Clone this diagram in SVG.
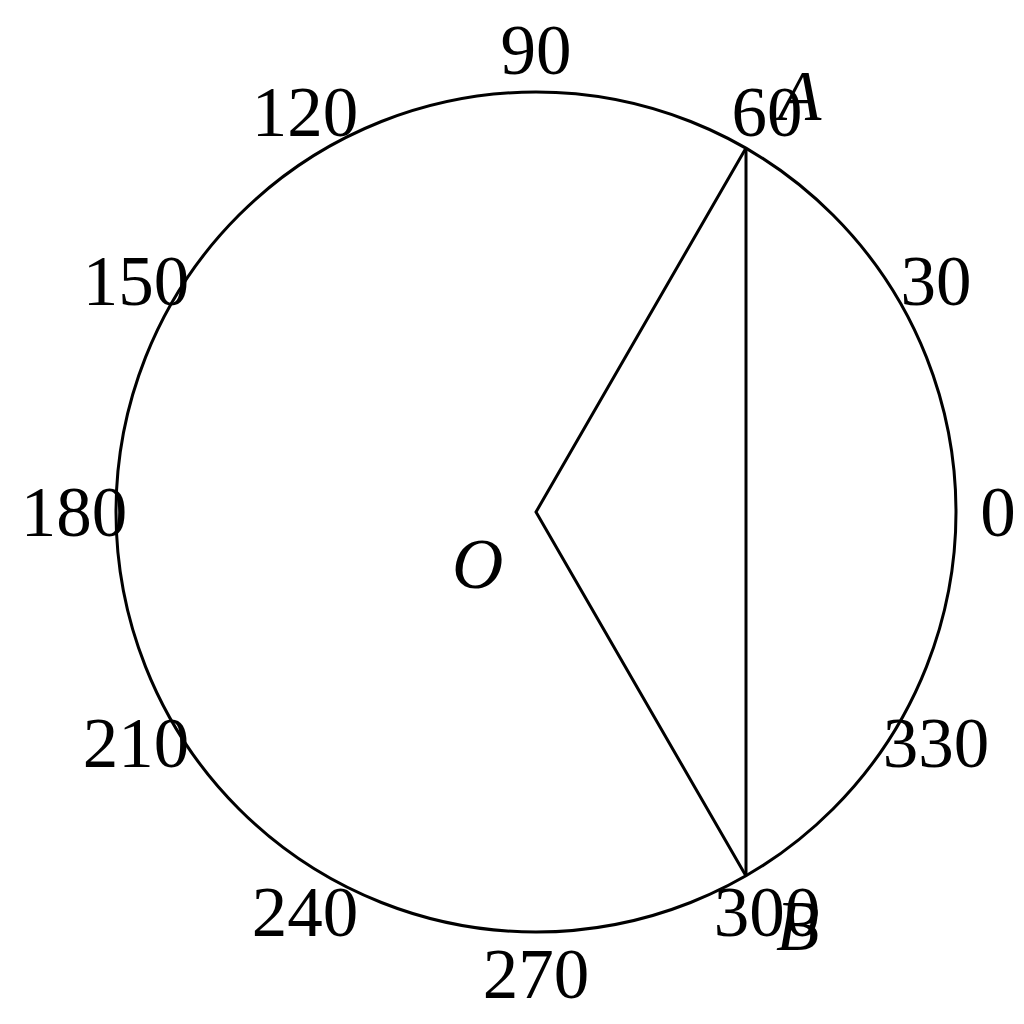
<svg xmlns="http://www.w3.org/2000/svg" width="1024" height="1024" viewBox="0 0 1024 1024">
<style>
.l{font-family:"Liberation Serif","DejaVu Serif",serif;font-size:71px;text-anchor:middle;fill:#000}
.v{font-family:"Liberation Serif","DejaVu Serif",serif;font-size:71px;font-style:italic;fill:#000}
.s{fill:none;stroke:#000;stroke-width:3}
</style>
<rect width="1024" height="1024" fill="#fff"/>
<g id="circle"><circle class="s" cx="536" cy="512" r="420"/></g>
<g id="connectors">
<polyline class="s" points="746,148 536,512 746,876" stroke-linejoin="miter"/>
<line class="s" x1="746" y1="148" x2="746" y2="876"/>
</g>
<g id="ticks">
<text class="l" x="998" y="536">0</text>
<text class="l" x="936" y="305">30</text>
<text class="l" x="767" y="136">60</text>
<text class="l" x="536" y="74">90</text>
<text class="l" x="305" y="136">120</text>
<text class="l" x="136" y="305">150</text>
<text class="l" x="74" y="536">180</text>
<text class="l" x="136" y="767">210</text>
<text class="l" x="305" y="936">240</text>
<text class="l" x="536" y="998">270</text>
<text class="l" x="767" y="936">300</text>
<text class="l" x="936" y="767">330</text>
</g>
<g id="A"><text class="v" x="778" y="120">A</text></g>
<g id="B"><text class="v" x="776" y="950">B</text></g>
<g id="O"><text class="v" x="452" y="588">O</text></g>
</svg>
